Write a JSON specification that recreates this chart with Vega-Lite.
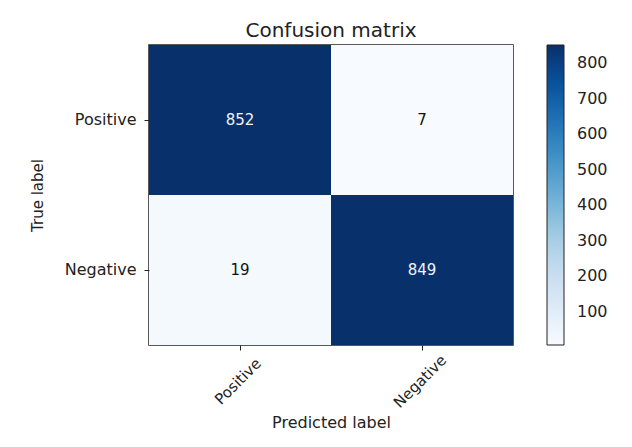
{
  "$schema": "https://vega.github.io/schema/vega-lite/v6.json",
  "width": 364,
  "height": 300,
  "autosize": {"type": "none"},
  "padding": {"left": 149, "top": 45, "right": 119, "bottom": 102},
  "background": "white",
  "title": {
    "text": "Confusion matrix",
    "font": "DejaVu Sans",
    "fontSize": 20,
    "fontWeight": "normal",
    "color": "#222222",
    "offset": 4
  },
  "data": {
    "values": [
      {"true_label": "Positive", "predicted": "Positive", "count": 852},
      {"true_label": "Positive", "predicted": "Negative", "count": 7},
      {"true_label": "Negative", "predicted": "Positive", "count": 19},
      {"true_label": "Negative", "predicted": "Negative", "count": 849}
    ]
  },
  "encoding": {
    "x": {
      "field": "predicted",
      "type": "nominal",
      "sort": ["Positive", "Negative"],
      "scale": {"paddingInner": 0, "paddingOuter": 0},
      "axis": {
        "title": "Predicted label",
        "labelAngle": -45,
        "labelAlign": "center",
        "labelBaseline": "middle",
        "labelFontSize": 15,
        "labelPadding": 31,
        "labelOffset": -2,
        "tickSize": 5,
        "titlePadding": 4
      }
    },
    "y": {
      "field": "true_label",
      "type": "nominal",
      "sort": ["Positive", "Negative"],
      "scale": {"paddingInner": 0, "paddingOuter": 0},
      "axis": {
        "title": "True label",
        "titleFontSize": 15,
        "labelPadding": 8,
        "tickSize": 5,
        "titlePadding": 19
      }
    }
  },
  "layer": [
    {
      "mark": {"type": "rect"},
      "encoding": {
        "color": {
          "field": "count",
          "type": "quantitative",
          "scale": {
            "domain": [7, 112.625, 218.25, 323.875, 429.5, 535.125, 640.75, 746.375, 852],
            "range": ["#f7fbff", "#deebf7", "#c6dbef", "#9ecae1", "#6baed6", "#4292c6", "#2171b5", "#08519c", "#08306b"]
          },
          "legend": {
            "title": null,
            "type": "gradient",
            "orient": "right",
            "offset": 34,
            "gradientLength": 300,
            "gradientThickness": 17,
            "gradientStrokeColor": "#222222",
            "gradientStrokeWidth": 1,
            "values": [100, 200, 300, 400, 500, 600, 700, 800],
            "labelFont": "DejaVu Sans",
            "labelFontSize": 16,
            "labelColor": "#222222",
            "labelOffset": 13,
            "labelOverlap": false
          }
        }
      }
    },
    {
      "mark": {"type": "text", "font": "DejaVu Sans", "fontSize": 15},
      "encoding": {
        "text": {"field": "count", "type": "quantitative"},
        "color": {
          "condition": {"test": "datum.count > 426", "value": "#f0f4fa"},
          "value": "#111111"
        }
      }
    }
  ],
  "config": {
    "view": {"stroke": "#222222", "strokeWidth": 1.5},
    "axis": {
      "grid": false,
      "domain": false,
      "tickColor": "#222222",
      "labelFont": "DejaVu Sans",
      "labelFontSize": 16,
      "labelColor": "#222222",
      "titleFont": "DejaVu Sans",
      "titleFontSize": 16,
      "titleFontWeight": "normal",
      "titleColor": "#222222"
    }
  }
}
